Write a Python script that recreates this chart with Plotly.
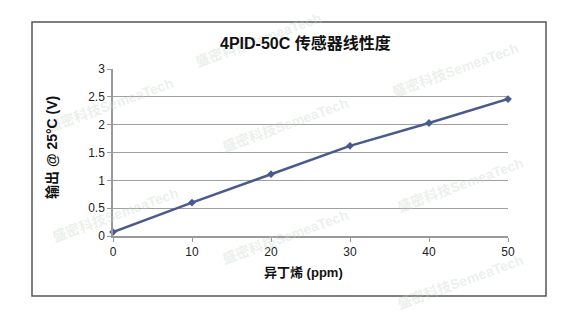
import plotly.graph_objects as go

x_ppm = [0, 10, 20, 30, 40, 50]
y_volt = [0.07, 0.60, 1.11, 1.62, 2.03, 2.46]

title_text = "4PID-50C 传感器线性度"
x_title = "异丁烯 (ppm)"
y_title = "输出 @ 25°C (V)"
watermark = "盛密科技SemeaTech"

FONT = "Liberation Sans, Arial, Noto Sans CJK SC, sans-serif"
L, R, T, B = 113, 74, 69, 84
W, H = 582, 320
PW, PH = W - L - R, H - T - B

def px(xp):
    return (xp - L) / PW

def py(yp):
    return (H - B - yp) / PH

fig = go.Figure()
fig.add_trace(go.Scatter(
    x=x_ppm, y=y_volt, mode="lines+markers",
    line=dict(color="#4a5a8e", width=2.5),
    marker=dict(symbol="diamond", size=6, color="#4a5a8e"),
    showlegend=False, cliponaxis=False,
))

annotations = []
wm_pos = [(258, 40), (110, 105), (285, 125), (455, 70), (115, 215),
          (285, 237), (460, 185), (460, 282)]
for (wx, wy) in wm_pos:
    annotations.append(dict(
        text="<b>" + watermark + "</b>", x=px(wx), y=py(wy), xref="paper", yref="paper",
        xanchor="center", yanchor="middle",
        showarrow=False, textangle=-20,
        font=dict(family=FONT, size=14, color="rgba(200,212,200,0.35)"),
    ))

annotations += [
    dict(text="<b>" + title_text + "</b>", x=px(305), y=py(43), xref="paper", yref="paper",
         xanchor="center", yanchor="middle",
         showarrow=False, font=dict(family=FONT, size=16, color="#111")),
    dict(text="<b>" + x_title + "</b>", x=px(303), y=py(272), xref="paper", yref="paper",
         xanchor="center", yanchor="middle",
         showarrow=False, font=dict(family=FONT, size=13, color="#111")),
    dict(text="<b>" + y_title + "</b>", x=px(52), y=py(148), xref="paper", yref="paper",
         xanchor="center", yanchor="middle",
         showarrow=False, textangle=-90, font=dict(family=FONT, size=14, color="#111")),
]

fig.update_layout(
    width=W, height=H,
    margin=dict(l=L, r=R, t=T, b=B),
    paper_bgcolor="white", plot_bgcolor="white",
    annotations=annotations,
    shapes=[dict(type="rect", xref="paper", yref="paper",
                 x0=px(32), x1=px(546), y0=py(296), y1=py(22),
                 line=dict(color="#555", width=1.5), layer="below")],
    font=dict(family=FONT, size=12, color="#222"),
)
fig.update_xaxes(range=[0, 50], dtick=10, tick0=0, showgrid=False,
                 showline=True, linecolor="#999", linewidth=1.5,
                 ticks="outside", ticklen=4, tickcolor="#999",
                 zeroline=False, tickfont=dict(size=12, color="#222"))
fig.update_yaxes(range=[0, 3], dtick=0.5, tick0=0, showgrid=True,
                 gridcolor="#a0a0a0", gridwidth=1.2,
                 showline=True, linecolor="#999", linewidth=1.5,
                 ticks="outside", ticklen=4, tickcolor="#999",
                 zeroline=False, tickfont=dict(size=12, color="#222"))

fig.write_html("out.html")
